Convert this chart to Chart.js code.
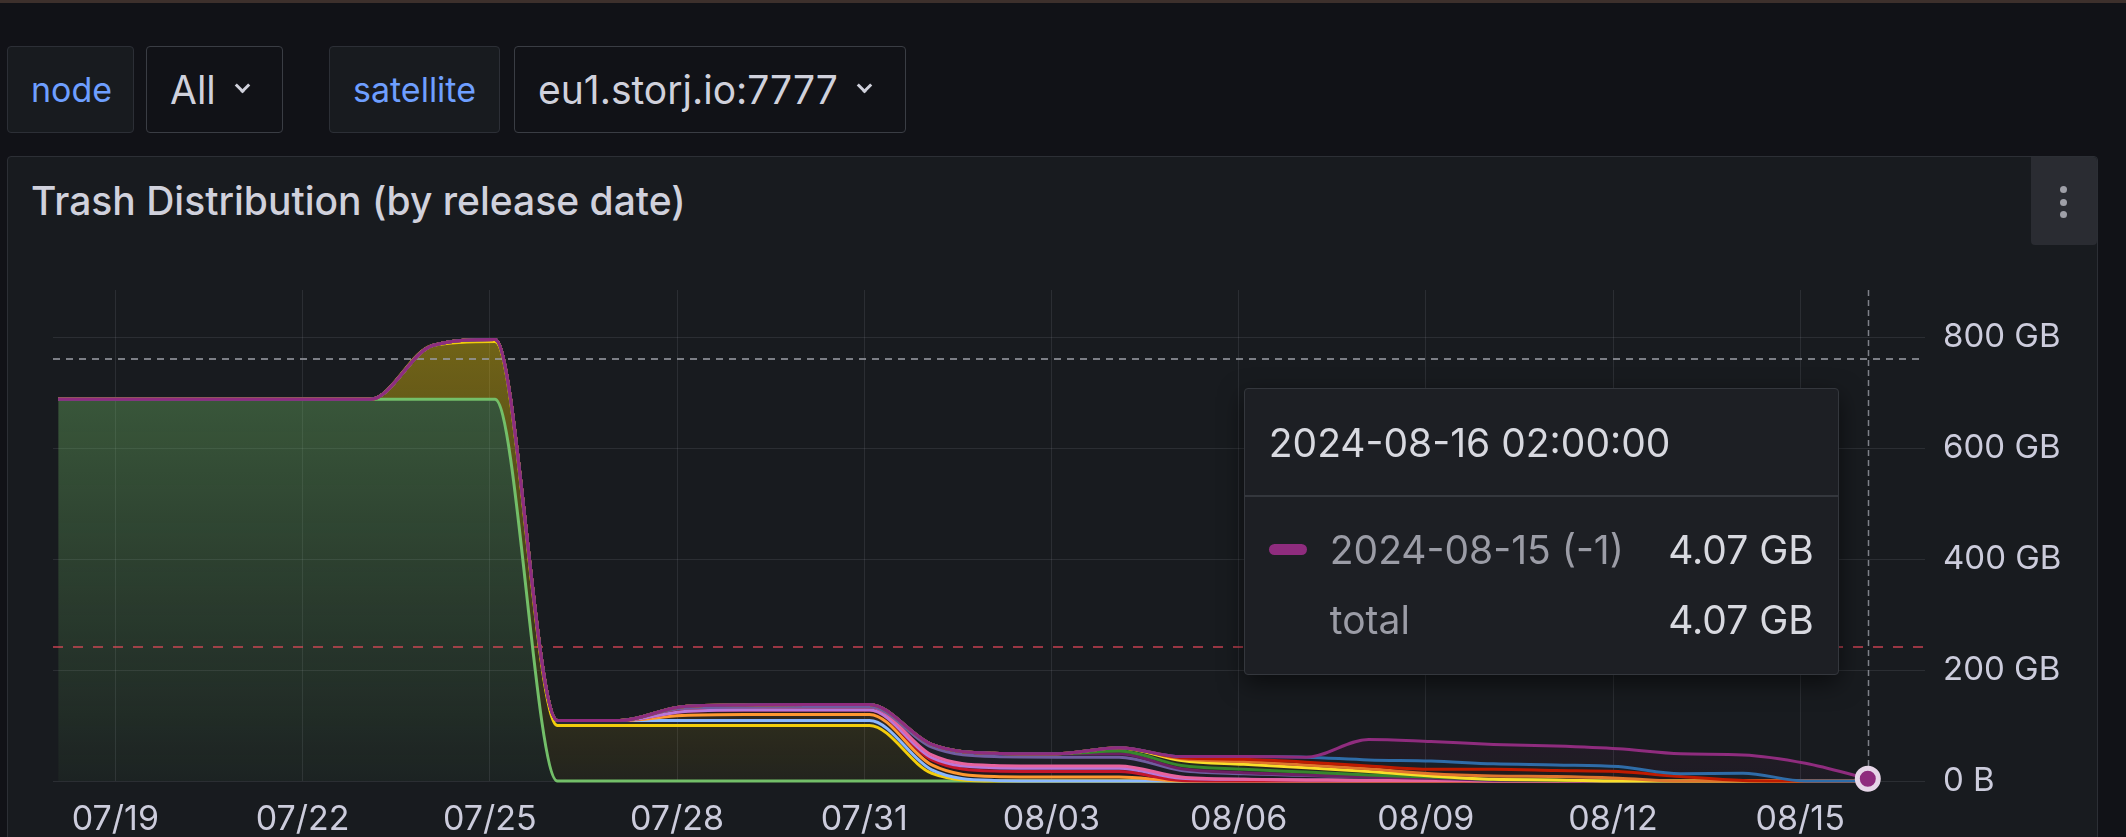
<!DOCTYPE html>
<html>
<head>
<meta charset="utf-8">
<title>Trash Distribution (by release date)</title>
<script src="https://cdn.jsdelivr.net/npm/chart.js@4.4.1/dist/chart.umd.min.js"></script>
<style>
  html, body { margin: 0; padding: 0; }
  body {
    width: 2126px; height: 837px; overflow: hidden; position: relative;
    background: #111217; font-family: Inter, "Noto Sans", sans-serif; color: #ccccdc;
  }
  .topline { position: absolute; left: 0; top: 0; width: 2126px; height: 3px; background: #3d302c; }
  .var {
    position: absolute; top: 46px; height: 87px; box-sizing: border-box; border-radius: 4px;
    display: flex; align-items: center; padding-left: 23px; white-space: nowrap;
  }
  .var.label { background: #181b1f; border: 1px solid #2c2f36; color: #6e9fff; font-size: 34px; }
  .var.value { background: #111217; border: 1px solid #3a3d44; color: #d0d1dc; font-size: 39px; }
  .chev {
    display: inline-block; width: 8px; height: 8px; margin-left: 21px; margin-top: -8px;
    border-right: 3px solid #d0d1dc; border-bottom: 3px solid #d0d1dc; transform: rotate(45deg);
  }
  .panel {
    position: absolute; left: 7px; top: 156px; width: 2091px; height: 720px; box-sizing: border-box;
    background: #181b1f; border: 1px solid #2c2f35; border-radius: 4px;
  }
  .title {
    position: absolute; left: 31px; top: 178px; font-size: 39px; line-height: 46px;
    font-weight: 500; color: #d0d1dc; white-space: nowrap;
  }
  .menu {
    position: absolute; left: 2031px; top: 157px; width: 66px; height: 88px;
    background: #2a2c32; border-radius: 0 4px 4px 4px;
  }
  .menu i {
    position: absolute; left: 29px; width: 7px; height: 7px; border-radius: 50%; background: #9fa0a8;
  }
  #chart { position: absolute; left: 0; top: 0; }
  #tip {
    position: absolute; display: none; width: 595px; box-sizing: border-box;
    background: #1d1f24; border: 1px solid #34373d; border-radius: 4px;
    box-shadow: 0 8px 24px rgba(0, 0, 0, 0.55); font-size: 39px;
  }
  #tip .head {
    height: 106px; padding-left: 24px; display: flex; align-items: center;
    color: #d8d9e0; border-bottom: 2px solid #34373d;
  }
  #tip .body { padding: 17px 24px 20px 24px; }
  #tip .row { display: flex; align-items: center; height: 70px; }
  #tip .sw { width: 38px; height: 11px; border-radius: 6px; margin-right: 23px; }
  #tip .lbl { flex: 1; color: #9b9ca6; }
  #tip .val { color: #d8d9e0; }
</style>
</head>
<body>
<div class="topline"></div>
<div class="var label" style="left:7px;width:127px;">node</div>
<div class="var value" style="left:146px;width:137px;">All<span class="chev"></span></div>
<div class="var label" style="left:329px;width:171px;">satellite</div>
<div class="var value" style="left:514px;width:392px;">eu1.storj.io:7777<span class="chev"></span></div>
<div class="panel"></div>
<div class="title">Trash Distribution (by release date)</div>
<div class="menu"><i style="top:29px"></i><i style="top:42px"></i><i style="top:54px"></i></div>
<canvas id="chart" width="2126" height="837"></canvas>
<div id="tip"></div>

<script>
// sample times (one point a day, 02:00)
const times = [
  "2024-07-18 02:00", "2024-07-19 02:00", "2024-07-20 02:00", "2024-07-21 02:00", "2024-07-22 02:00",
  "2024-07-23 02:00", "2024-07-24 02:00", "2024-07-25 02:00", "2024-07-26 02:00", "2024-07-27 02:00",
  "2024-07-28 02:00", "2024-07-29 02:00", "2024-07-30 02:00", "2024-07-31 02:00", "2024-08-01 02:00",
  "2024-08-02 02:00", "2024-08-03 02:00", "2024-08-04 02:00", "2024-08-05 02:00", "2024-08-06 02:00",
  "2024-08-07 02:00", "2024-08-08 02:00", "2024-08-09 02:00", "2024-08-10 02:00", "2024-08-11 02:00",
  "2024-08-12 02:00", "2024-08-13 02:00", "2024-08-14 02:00", "2024-08-15 02:00", "2024-08-16 02:00"
];

// trash per release date, GB (stacked bottom -> top)
const trash0725 = [688, 688, 688, 688, 688, 688, 688, 688, 0, 0, 0, 0, 0, 0, 0, 0, 0, 0, 0, 0, 0, 0, 0, 0, 0, 0, 0, 0, 0, 0];
const trash0731 = [0, 0, 0, 0, 0, 0, 97, 104, 100, 100, 100, 100, 100, 100, 14, 0, 0, 0, 0, 0, 0, 0, 0, 0, 0, 0, 0, 0, 0, 0];
const trash0801 = [0, 0, 0, 0, 0, 0, 0, 4, 9, 9, 9, 9, 9, 9, 6, 1, 0, 0, 0, 0, 0, 0, 0, 0, 0, 0, 0, 0, 0, 0];
const trash0804 = [0, 0, 0, 0, 0, 0, 0, 0, 0, 0, 9, 11, 11, 11, 9, 7, 7, 7, 0, 0, 0, 0, 0, 0, 0, 0, 0, 0, 0, 0];
const trash0805 = [0, 0, 0, 0, 0, 0, 0, 0, 0, 0, 7, 8, 8, 8, 9, 10, 10, 10, 1, 0, 0, 0, 0, 0, 0, 0, 0, 0, 0, 0];
const trash0806 = [0, 0, 0, 0, 0, 0, 0, 0, 0, 0, 0, 0, 0, 0, 4, 6, 6, 6, 4, 3, 2, 1, 1, 0.5, 0.5, 0, 0, 0, 0, 0];
const trash0807 = [0, 0, 0, 0, 0, 0, 0, 0, 0, 0, 6, 5, 6, 6, 5, 4, 4, 4, 2, 0, 0, 0, 0, 0, 0, 0, 0, 0, 0, 0];
const trash0808 = [0, 0, 0, 0, 0, 0, 0, 0, 0, 0, 0, 0, 0, 0, 14, 16, 16, 16, 12, 10, 8, 6, 4, 1, 0.5, 0, 0, 0, 0, 0];
const trash0809 = [0, 0, 0, 0, 0, 0, 0, 0, 0, 0, 3, 4, 4, 4, 5, 6, 6, 6, 3, 2, 1, 0, 0, 0, 0, 0, 0, 0, 0, 0];
const trash0810 = [0, 0, 0, 0, 0, 0, 0, 0, 0, 0, 0, 0, 0, 0, 0, 0, 0, 5, 6, 6, 5, 4, 2, 1, 0.5, 0, 0, 0, 0, 0];
const trash0811 = [0, 0, 0, 0, 0, 0, 0, 0, 0, 0, 0, 0, 0, 0, 0, 0, 0, 6, 9, 9, 8, 6, 2, 0.5, 0.5, 0, 0, 0, 0, 0];
const trash0812 = [0, 0, 0, 0, 0, 0, 0, 0, 0, 0, 0, 0, 0, 0, 0, 0, 0, 0, 3, 5, 5, 5, 4, 6, 6, 5, 0, 0, 0, 0];
const trash0813 = [0, 0, 0, 0, 0, 0, 0, 0, 0, 0, 0, 0, 0, 0, 0, 0, 0, 0, 2, 4, 5, 5, 8, 12, 11, 12, 8, 1, 0, 0];
const trash0814 = [0, 0, 0, 0, 0, 0, 0, 0, 0, 0, 0, 0, 0, 0, 0, 0, 0, 0, 2, 5, 9, 11, 15, 10, 10, 9, 5, 13, 0, 0];
const trash0815 = [0, 0, 0, 0, 0, 0, 0, 0, 0, 0, 0, 0, 0, 0, 0, 0, 0, 0, 0, 0, 0, 37, 35, 35, 34, 32, 36, 33, 32, 4.07];

const seriesNames = [
  "2024-07-25 (-22)", "2024-07-31 (-16)", "2024-08-01 (-15)", "2024-08-04 (-12)", "2024-08-05 (-11)",
  "2024-08-06 (-10)", "2024-08-07 (-9)", "2024-08-08 (-8)", "2024-08-09 (-7)", "2024-08-10 (-6)",
  "2024-08-11 (-5)", "2024-08-12 (-4)", "2024-08-13 (-3)", "2024-08-14 (-2)", "2024-08-15 (-1)"
];
const seriesValues = [
  trash0725, trash0731, trash0801, trash0804, trash0805, trash0806, trash0807, trash0808,
  trash0809, trash0810, trash0811, trash0812, trash0813, trash0814, trash0815
];
const seriesColors = [
  "#73BF69", "#F2CC0C", "#8AB8FF", "#FF9830", "#C4162A", "#B877D9", "#E8639E", "#705DA0",
  "#6D1F62", "#37872D", "#FADE2A", "#E0752D", "#BF1B00", "#2F6CA8", "#8F2C7E"
];

// axis ticks and threshold lines
const xTickDates = ["2024-07-19", "2024-07-22", "2024-07-25", "2024-07-28", "2024-07-31",
                    "2024-08-03", "2024-08-06", "2024-08-09", "2024-08-12", "2024-08-15"];
const yTicks = [0, 200, 400, 600, 800];
const thresholdValues = [242, 761];
const xRange = ["2024-07-18 00:00", "2024-08-17 00:00"];
const yMax = 885;

const toMs = (s) => {
  const [d, t] = s.split(" ");
  const [Y, M, D] = d.split("-").map(Number);
  const [h, m] = (t || "00:00").split(":").map(Number);
  return Date.UTC(Y, M - 1, D, h, m);
};
const pad2 = (n) => String(n).padStart(2, "0");
const fmtStamp = (ms) => {
  const d = new Date(ms);
  return `${d.getUTCFullYear()}-${pad2(d.getUTCMonth() + 1)}-${pad2(d.getUTCDate())} ` +
         `${pad2(d.getUTCHours())}:${pad2(d.getUTCMinutes())}:${pad2(d.getUTCSeconds())}`;
};
const fmtBytes = (v) => (v === 0 ? "0 B" : `${+v.toFixed(2)} GB`);

const rgba = (hex, a) => {
  const n = parseInt(hex.slice(1), 16);
  return `rgba(${(n >> 16) & 255}, ${(n >> 8) & 255}, ${n & 255}, ${a})`;
};
const gradientFill = (hex) => (ctx) => {
  const area = ctx.chart.chartArea;
  if (!area) return "transparent";
  const g = ctx.chart.ctx.createLinearGradient(0, area.top, 0, area.bottom);
  g.addColorStop(0, rgba(hex, 0.45));
  g.addColorStop(1, rgba(hex, 0.05));
  return g;
};

const lastIdx = times.length - 1;
const topIdx = seriesValues.length - 1;

const datasets = seriesValues.map((vals, i) => ({
  label: seriesNames[i],
  data: vals.map((v, k) => ({ x: toMs(times[k]), y: v })),
  borderColor: seriesColors[i],
  backgroundColor: gradientFill(seriesColors[i]),
  borderWidth: 3,
  fill: i === 0 ? "origin" : "-1",
  cubicInterpolationMode: "monotone",
  pointRadius: 0,
  pointHitRadius: 0,
  pointHoverRadius: i === topIdx ? 10.5 : 0,
  pointHoverBorderWidth: 5,
  pointHoverBackgroundColor: seriesColors[i],
  pointHoverBorderColor: "#e6d6e8",
}));

// fills first, then thresholds, lines bottom->top, crosshair, hover point
const grafanaLayers = {
  id: "grafanaLayers",
  beforeDatasetsDraw(chart) {
    const ctx = chart.ctx;
    const a = chart.chartArea;
    const y = chart.scales.y;

    ctx.save();
    ctx.lineWidth = 2;
    thresholdValues.forEach((v) => {
      const py = Math.round(y.getPixelForValue(v));
      ctx.strokeStyle = v > 500 ? "rgba(150, 152, 160, 0.8)" : "rgba(242, 73, 92, 0.6)";
      ctx.setLineDash(v > 500 ? [7, 6] : [10, 10]);
      ctx.beginPath();
      ctx.moveTo(a.left, py);
      ctx.lineTo(a.right, py);
      ctx.stroke();
    });
    ctx.restore();

    ctx.save();
    ctx.beginPath();
    ctx.rect(a.left, a.top - 4, a.right - a.left, a.bottom - a.top + 8);
    ctx.clip();
    chart.getSortedVisibleDatasetMetas().forEach((meta) => meta.dataset.draw(ctx, a));
    ctx.restore();

    const active = chart.getActiveElements();
    if (active.length) {
      const px = Math.round(active[0].element.x) + 0.5;
      ctx.save();
      ctx.strokeStyle = "rgba(170, 172, 182, 0.7)";
      ctx.lineWidth = 1.5;
      ctx.setLineDash([6, 4]);
      ctx.beginPath();
      ctx.moveTo(px, a.top);
      ctx.lineTo(px, a.bottom);
      ctx.stroke();
      ctx.restore();
      active.forEach(({ element }) => element.draw(ctx));
    }
    return false;
  },
};

function externalTooltip({ chart, tooltip }) {
  const el = document.getElementById("tip");
  if (tooltip.opacity === 0 || !tooltip.dataPoints || !tooltip.dataPoints.length) {
    el.style.display = "none";
    return;
  }
  const items = tooltip.dataPoints;
  const total = items.reduce((s, it) => s + it.parsed.y, 0);
  let html = `<div class="head">${fmtStamp(items[0].parsed.x)}</div><div class="body">`;
  items.forEach((it) => {
    html += `<div class="row"><span class="sw" style="background:${it.dataset.borderColor}"></span>` +
            `<span class="lbl">${it.dataset.label}</span><span class="val">${fmtBytes(it.parsed.y)}</span></div>`;
  });
  html += `<div class="row"><span class="sw"></span><span class="lbl">total</span>` +
          `<span class="val">${fmtBytes(total)}</span></div></div>`;
  el.innerHTML = html;
  el.style.display = "block";
  el.style.left = (tooltip.caretX - 29 - el.offsetWidth) + "px";
  el.style.top = (chart.chartArea.top + 98) + "px";
}

Chart.defaults.font.family = "Inter, 'Noto Sans', sans-serif";
Chart.defaults.color = "#ccccdc";

const gridColor = "rgba(204, 204, 220, 0.11)";

const chart = new Chart(document.getElementById("chart"), {
  type: "line",
  data: { datasets },
  options: {
    responsive: false,
    animation: false,
    events: [],
    layout: { padding: { left: 53, top: 290, right: 0, bottom: 0 } },
    interaction: { mode: "index", intersect: false },
    scales: {
      x: {
        type: "linear",
        min: toMs(xRange[0]),
        max: toMs(xRange[1]),
        grid: { color: gridColor, drawTicks: false },
        border: { display: false },
        ticks: {
          autoSkip: false, maxRotation: 0, padding: 18, color: "#ccccdc",
          font: { size: 34 },
          callback: (v) => {
            const d = new Date(v);
            return `${pad2(d.getUTCMonth() + 1)}/${pad2(d.getUTCDate())}`;
          },
        },
        afterBuildTicks: (s) => { s.ticks = xTickDates.map((d) => ({ value: toMs(d) })); },
        afterFit: (s) => { s.height = 56; },
      },
      y: {
        position: "right",
        stacked: true,
        min: 0,
        max: yMax,
        grid: { color: gridColor, drawTicks: false },
        border: { display: false },
        ticks: {
          padding: 18, color: "#ccccdc", font: { size: 33 },
          callback: (v) => fmtBytes(v),
        },
        afterBuildTicks: (s) => { s.ticks = yTicks.map((v) => ({ value: v })); },
        afterFit: (s) => { s.width = 201; },
      },
    },
    plugins: {
      legend: { display: false },
      filler: { drawTime: "beforeDatasetsDraw", propagate: false },
      tooltip: {
        enabled: false,
        external: externalTooltip,
        filter: (item) => item.parsed.y > 0,
      },
    },
  },
  plugins: [grafanaLayers],
});

chart.setActiveElements([{ datasetIndex: topIdx, index: lastIdx }]);
chart.tooltip.setActiveElements(
  seriesValues.map((_, i) => ({ datasetIndex: i, index: lastIdx })),
  { x: 0, y: 0 }
);
chart.render();
</script>
</body>
</html>
